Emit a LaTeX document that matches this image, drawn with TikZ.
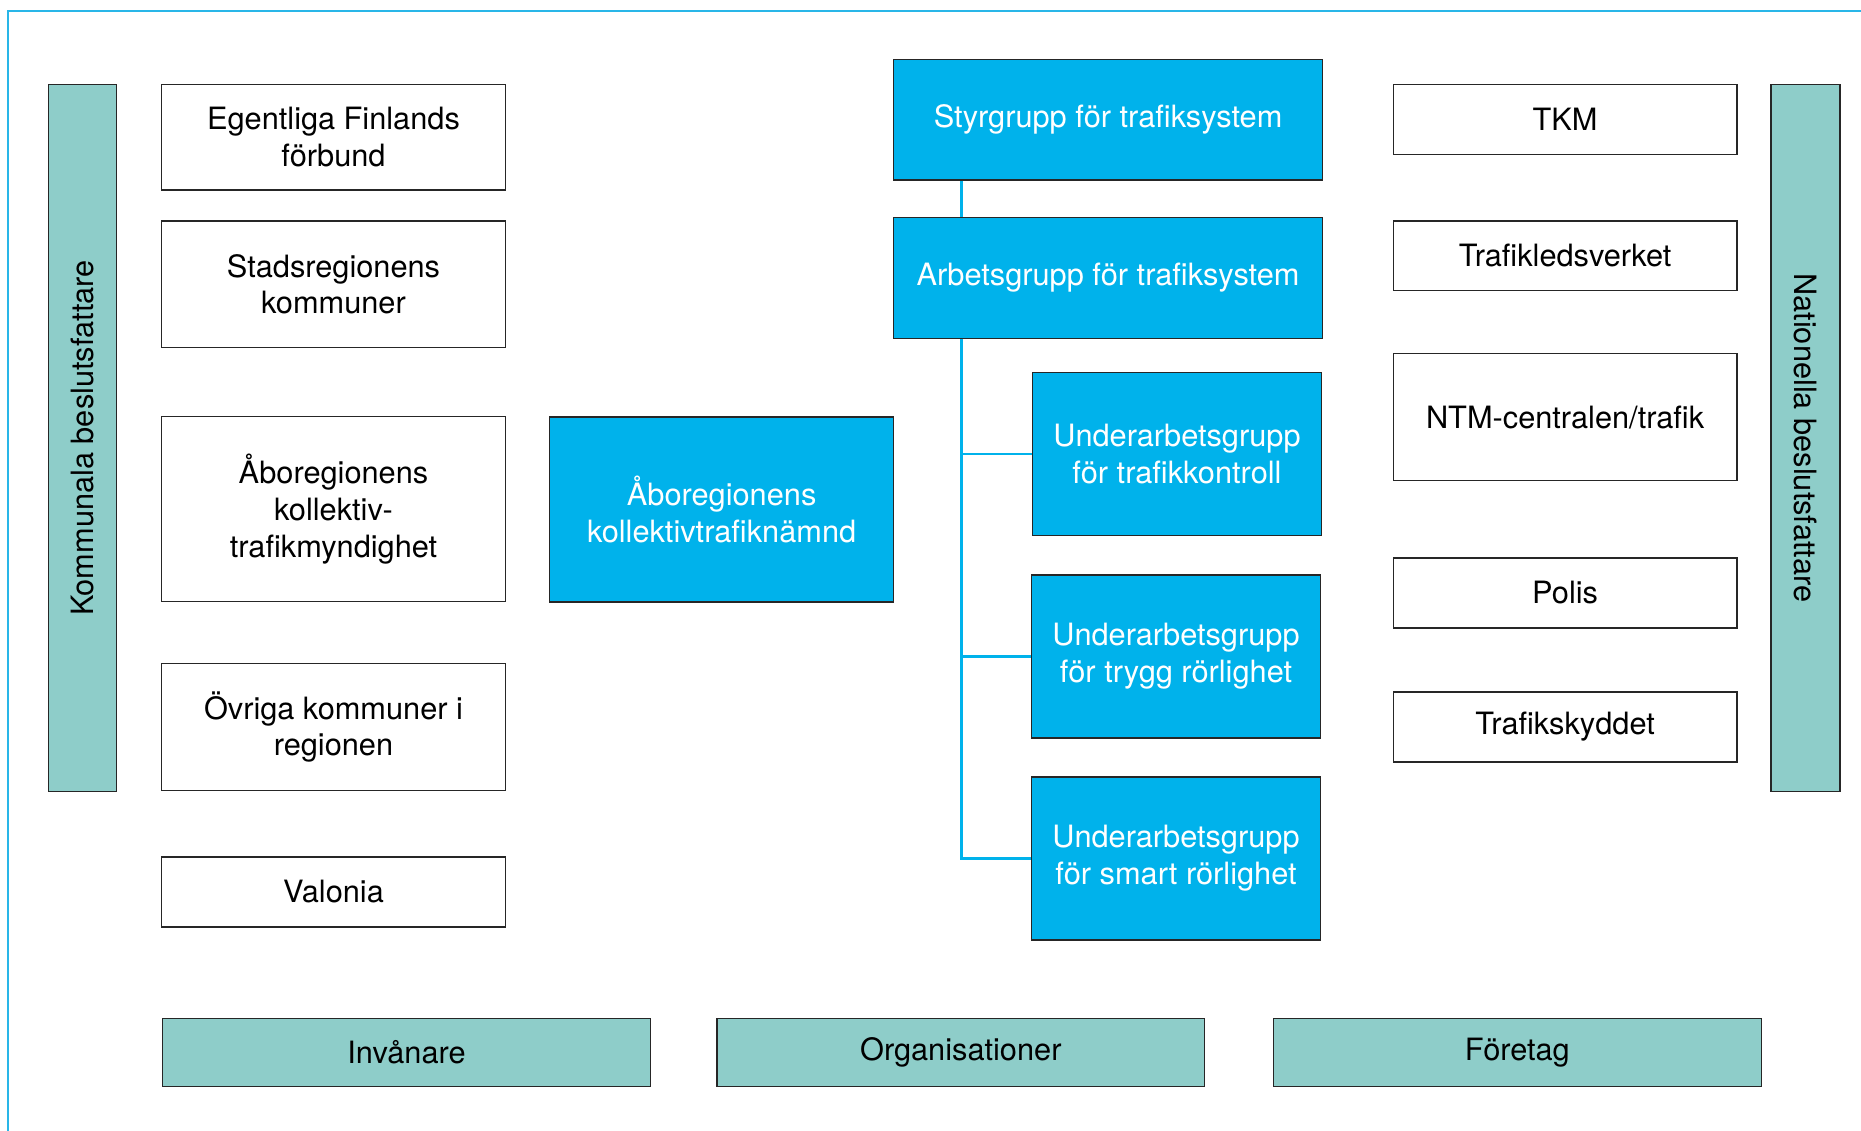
\documentclass[tikz,border=0pt]{standalone}
\usepackage{fontspec}
\setmainfont{TeX Gyre Heros}
\definecolor{tealbar}{RGB}{142,205,201}
\definecolor{trafikblue}{RGB}{0,178,235}
\definecolor{framecol}{RGB}{41,182,232}
\tikzset{
  box/.style={draw=black!85, line width=0.8pt, fill=white, align=center, inner sep=0pt,
    font=\fontsize{17.5}{21}\selectfont},
  bluebox/.style={box, fill=trafikblue, text=white, minimum width=5.77cm, minimum height=3.26cm},
  leftbox/.style={box, minimum width=6.88cm},
  rightbox/.style={box, minimum width=6.87cm},
  bar/.style={box, fill=tealbar},
  conn/.style={draw=trafikblue, line width=1.7pt},
}
\begin{document}
\begin{tikzpicture}[x=0.02cm,y=-0.02cm]
	\useasboundingbox (0,0) rectangle (1861,1131);
	\draw[framecol, line width=1.1pt] (8,1131) -- (8,11) -- (1861,11);
	\node[bar, minimum width=14.15cm, minimum height=1.35cm, rotate=90] (kommunala) at (82.5,438) {Kommunala beslutsfattare};
	\node[bar, minimum width=14.15cm, minimum height=1.38cm, rotate=-90] (nationella) at (1805.3,438) {Nationella beslutsfattare};
	\node[leftbox, minimum height=2.11cm] (egentliga) at (333.5,137.2) {Egentliga Finlands\\förbund};
	\node[leftbox, minimum height=2.54cm] (stadsreg) at (333.5,284.3) {Stadsregionens\\kommuner};
	\node[leftbox, minimum height=3.70cm] (myndighet) at (333.5,509.2) {Åboregionens\\kollektiv-\\trafikmyndighet};
	\node[leftbox, minimum height=2.54cm] (ovriga) at (333.5,727) {Övriga kommuner i\\regionen};
	\node[leftbox, minimum height=1.40cm] (valonia) at (333.5,892) {Valonia};
	\node[box, fill=trafikblue, text=white, minimum width=6.88cm, minimum height=3.70cm] (namnd) at (721.6,509.4) {Åboregionens\\kollektivtrafiknämnd};
	\node[box, fill=trafikblue, text=white, minimum width=8.58cm, minimum height=2.41cm] (styr) at (1108.1,119.7) {Styrgrupp för trafiksystem};
	\node[box, fill=trafikblue, text=white, minimum width=8.58cm, minimum height=2.41cm] (arb) at (1108.1,278) {Arbetsgrupp för trafiksystem};
	\node[bluebox] (kontroll) at (1177,454) {Underarbetsgrupp\\för trafikkontroll};
	\node[bluebox] (trygg) at (1176,656.4) {Underarbetsgrupp\\för trygg rörlighet};
	\node[bluebox] (smart) at (1176,858.4) {Underarbetsgrupp\\för smart rörlighet};
	\node[rightbox, minimum height=1.40cm] (tkm) at (1565.1,119.3) {TKM};
	\node[rightbox, minimum height=1.40cm] (trafikled) at (1565.1,255.8) {Trafikledsverket};
	\node[rightbox, minimum height=2.54cm] (ntm) at (1565.1,417.2) {NTM-centralen/trafik};
	\node[rightbox, minimum height=1.40cm] (polis) at (1565.1,592.9) {Polis};
	\node[rightbox, minimum height=1.40cm] (skydd) at (1565.1,727) {Trafikskyddet};
	\node[bar, minimum width=9.76cm, minimum height=1.36cm] (invanare) at (406.5,1052.5) {Invånare};
	\node[bar, minimum width=9.76cm, minimum height=1.36cm] (org) at (960.8,1052.5) {Organisationer};
	\node[bar, minimum width=9.76cm, minimum height=1.36cm] (foretag) at (1517.3,1052.5) {Företag};
	\coordinate (trunk) at (961.5,0);
	\draw[conn] (trunk |- styr.south) -- (trunk |- arb.north);
	\draw[conn] (trunk |- arb.south) |- (smart.west);
	\draw[conn] (trunk |- kontroll.west) -- (kontroll.west);
	\draw[conn] (trunk |- trygg.west) -- (trygg.west);
\end{tikzpicture}
\end{document}
